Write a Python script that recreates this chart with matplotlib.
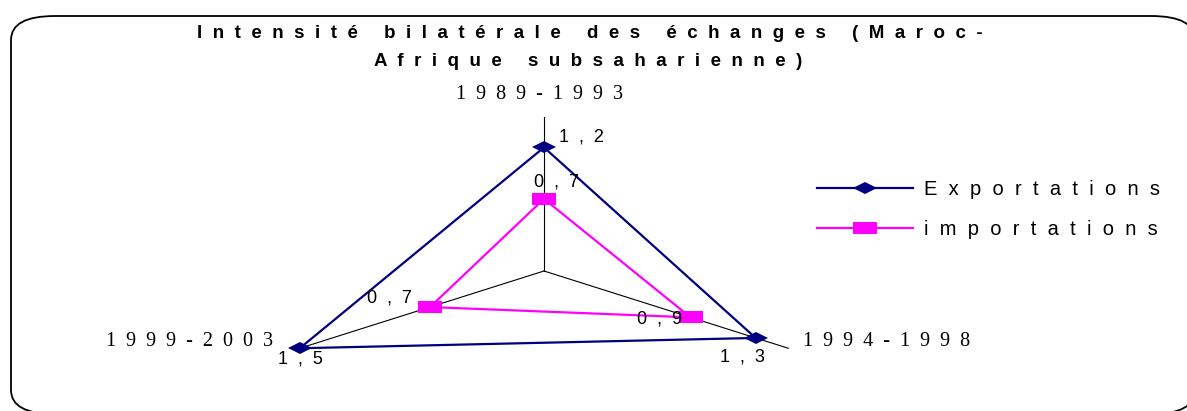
import numpy as np
import matplotlib
matplotlib.use('Agg')
import matplotlib.pyplot as plt
from matplotlib.markers import MarkerStyle
from matplotlib.transforms import Affine2D
from matplotlib.patches import FancyBboxPatch

# data ###########################################
title_lines = ['Intensité bilatérale des échanges (Maroc-', 'Afrique subsaharienne)']
periods = ['1989-1993', '1994-1998', '1999-2003']
exportations = [1.2, 1.3, 1.5]
importations = [0.7, 0.9, 0.7]
series_names = ['Exportations', 'importations']
r_max = 1.5

# layout (pixels) ################################
W, H = 1187, 411
CX, CY = 544, 271      # centre of the radar
RX, RY = 188, 103      # pixels per unit (chart is stretched sideways)

navy = '#000080'
pink = '#FF00FF'

def spread(s, n=1):
    # excel-ish letter spacing
    return (' ' * n).join(s)

def fmt(v):
    return spread(('%.1f' % v).replace('.', ','), 2)

fig = plt.figure(figsize=(W / 100, H / 100), dpi=100)

# frame with rounded corners
bg = fig.add_axes([0, 0, 1, 1])
bg.set_xlim(0, W)
bg.set_ylim(H, 0)
bg.axis('off')
frame = FancyBboxPatch((11, 16), 1195 - 11, 414 - 16,
                       boxstyle='round,pad=0,rounding_size=44',
                       mutation_aspect=24 / 44, fc='white', ec='black', lw=1.3)
bg.add_patch(frame)

ax = fig.add_axes([0, 0, 1, 1])
ax.set_xlim(-CX / RX, (W - CX) / RX)
ax.set_ylim(-(H - CY) / RY, CY / RY)
ax.axis('off')

theta = np.deg2rad([0, 120, 240])   # clockwise from top
sx, sy = np.sin(theta), np.cos(theta)

# spokes
for i in range(len(periods)):
    ax.plot([0, r_max * sx[i]], [0, r_max * sy[i]], color='black', lw=0.8, zorder=1)

diamond = MarkerStyle('D', transform=Affine2D().scale(1, 0.5))
square = MarkerStyle('s', transform=Affine2D().scale(1, 0.5))

handles = []
for vals, col, mk, ms in [(exportations, navy, diamond, 12.6), (importations, pink, square, 17.3)]:
    v = np.array(vals)
    xs = np.append(v * sx, v[0] * sx[0])
    ys = np.append(v * sy, v[0] * sy[0])
    ax.plot(xs, ys, color=col, lw=1.6, zorder=2)
    h, = ax.plot(v * sx, v * sy, ls='none', marker=mk, ms=ms, color=col, mew=0, zorder=3)
    handles.append((h, col, mk, ms))

# value labels, offsets in pixels (dx, dy, ha)
exp_off = [(15, 10, 'left'), (-13, -19, 'center'), (1, -11, 'center')]
imp_off = [(12, 17, 'center'), (-8, -2, 'right'), (-18, 9, 'right')]
for vals, offs in [(exportations, exp_off), (importations, imp_off)]:
    for i, v in enumerate(vals):
        dx, dy, ha = offs[i]
        ax.annotate(fmt(v), (v * sx[i], v * sy[i]), xytext=(dx, dy), textcoords='offset pixels',
                    ha=ha, va='center', fontsize=13, family='Liberation Sans', zorder=4)

# category labels
cat_off = [(-4, 22, 'center'), (15, 7, 'left'), (-27, 7, 'right')]
for i, p in enumerate(periods):
    dx, dy, ha = cat_off[i]
    ax.annotate(spread(p, 2), (r_max * sx[i], r_max * sy[i]), xytext=(dx, dy), textcoords='offset pixels',
                ha=ha, va='center', fontsize=14.5, family='Liberation Serif')

# title
fig.text(590 / W, 1 - 34 / H, spread(title_lines[0], 2), ha='center', va='center',
         fontsize=13.5, fontweight='bold', family='Liberation Sans')
fig.text(588 / W, 1 - 61 / H, spread(title_lines[1], 2), ha='center', va='center',
         fontsize=13.5, fontweight='bold', family='Liberation Sans')

# legend
leg_handles = [plt.Line2D([], [], color=c, lw=1.6, marker=m, ms=s, mew=0) for h, c, m, s in handles]
fig.legend(leg_handles, [spread(n, 2) for n in series_names], loc='upper left',
           bbox_to_anchor=(817 / W, 1 - 180 / H), frameon=False, borderpad=0, borderaxespad=0,
           handlelength=4.78, handletextpad=0.55, labelspacing=1.05,
           prop={'family': 'Liberation Sans', 'size': 14.5})

fig.savefig('out.png', dpi=100)
print('donezo')
